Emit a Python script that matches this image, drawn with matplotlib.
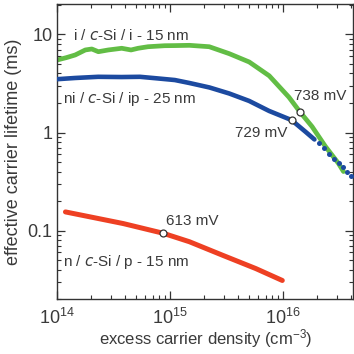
#!/usr/bin/env python3
"""Effective carrier lifetime vs excess carrier density for three a-Si:H/c-Si stacks."""

import math
import matplotlib
matplotlib.use('Agg')
import matplotlib.pyplot as plt
import matplotlib.ticker as ticker

plt.rcParams['font.family'] = ['Liberation Sans', 'DejaVu Sans']
plt.rcParams['mathtext.default'] = 'regular'

# values (x in cm^-3, y in ms)
green_x = [1.0e14, 1.2e14, 1.44e14, 1.77e14, 2.02e14, 2.31e14, 2.83e14, 3.72e14, 4.5e14,
           5.2e14, 6.37e14, 8.95e14, 1.1e15, 1.48e15, 2.22e15, 3.34e15, 5.02e15, 7.55e15,
           1.13e16, 1.41e16, 1.81e16, 2.38e16, 3.1e16, 3.44e16]
green_y = [5.5, 5.8, 6.18, 6.95, 7.11, 6.67, 6.95, 7.23, 6.95,
           7.23, 7.5, 7.68, 7.7, 7.75, 7.5, 6.37, 5.24, 3.79,
           2.29, 1.63, 1.15, 0.72, 0.485, 0.40]

blue_x = [1.0e14, 1.44e14, 2.3e14, 3.7e14, 5.4e14, 7.6e14, 1.1e15, 1.48e15, 2.23e15,
          3.34e15, 5.01e15, 7.53e15, 1.19e16, 1.58e16, 1.9e16]
blue_y = [3.5, 3.6, 3.7, 3.68, 3.7, 3.57, 3.43, 3.2, 2.88,
          2.5, 2.1, 1.66, 1.34, 1.02, 0.85]
# sparse measured points at the high-injection end
blue_tail_x = [2.07e16, 2.30e16, 2.54e16, 2.81e16, 3.11e16, 3.38e16, 3.67e16, 3.97e16]
blue_tail_y = [0.78, 0.69, 0.61, 0.54, 0.485, 0.44, 0.40, 0.36]

red_x = [1.18e14, 1.95e14, 3.83e14, 8.65e14, 1.48e15, 2.92e15, 5.74e15, 9.86e15]
red_y = [0.155, 0.138, 0.118, 0.094, 0.077, 0.056, 0.041, 0.031]

# implied Voc markers
voc_x = [1.41e16, 1.19e16, 8.65e14]
voc_y = [1.63, 1.34, 0.094]
voc_labels = ['738 mV', '729 mV', '613 mV']

green = '#62bd45'
blue = '#1c4aa0'
red = '#ee4023'
grey = '#3a3a3a'

fig = plt.figure(figsize=(3.54, 3.54), dpi=100)
ax = fig.add_axes([0.162, 0.155, 0.836, 0.834])

ax.plot(green_x, green_y, color=green, linewidth=3.4, solid_capstyle='round', zorder=2)
ax.plot(blue_x, blue_y, color=blue, linewidth=3.3, solid_capstyle='round', zorder=3)
ax.plot(blue_tail_x, blue_tail_y, color=blue, linestyle='none', marker='o',
        markersize=3.6, markeredgewidth=0, zorder=3)
ax.plot(red_x, red_y, color=red, linewidth=3.6, solid_capstyle='round', zorder=2)

ax.plot(voc_x, voc_y, linestyle='none', marker='o', markersize=5,
        markerfacecolor='white', markeredgecolor='#333333', markeredgewidth=0.9, zorder=5)

# labels
fs = 11
ax.text(1.37e14, 9.8, 'i / $\\it{c}$-Si / i - 15 nm', fontsize=fs, color=grey, va='center')
ax.text(1.12e14, 2.2, 'ni / $\\it{c}$-Si / ip - 25 nm', fontsize=fs, color=grey, va='center')
ax.text(1.12e14, 0.048, 'n / $\\it{c}$-Si / p - 15 nm', fontsize=fs, color=grey, va='center')
ax.text(1.25e16, 2.38, voc_labels[0], fontsize=fs, color=grey, va='center')
ax.text(1.1e16, 1.0, voc_labels[1], fontsize=fs, color=grey, va='center', ha='right')
ax.text(9.1e14, 0.126, voc_labels[2], fontsize=fs, color=grey, va='center')

ax.set_xscale('log')
ax.set_yscale('log')
ax.set_xlim(1e14, 4.2e16)
ax.set_ylim(0.02, 20.5)

ax.xaxis.set_major_locator(ticker.LogLocator(base=10, numticks=10))
ax.xaxis.set_major_formatter(ticker.FuncFormatter(lambda v, p: '$10^{%d}$' % round(math.log10(v))))
ax.yaxis.set_major_locator(ticker.FixedLocator([0.1, 1, 10]))
ax.yaxis.set_major_formatter(ticker.FixedFormatter(['0.1', '1', '10']))
ax.xaxis.set_minor_locator(ticker.LogLocator(base=10, subs=range(2, 10), numticks=20))
ax.yaxis.set_minor_locator(ticker.LogLocator(base=10, subs=range(2, 10), numticks=20))
ax.xaxis.set_minor_formatter(ticker.NullFormatter())
ax.yaxis.set_minor_formatter(ticker.NullFormatter())

ax.tick_params(which='both', direction='in', top=True, right=True, colors='#333333',
               labelcolor=grey, labelsize=13)
ax.tick_params(which='major', length=6, width=0.9)
ax.tick_params(which='minor', length=3, width=0.8)
ax.tick_params(axis='x', pad=6)
for s in ax.spines.values():
    s.set_color('#333333')
    s.set_linewidth(1.0)

ax.set_xlabel('excess carrier density (cm$^{-3}$)', fontsize=12, color=grey)
ax.set_ylabel('effective carrier lifetime (ms)', fontsize=13, color=grey)
ax.xaxis.set_label_coords(0.5, -0.095)
ax.yaxis.set_label_coords(-0.118, 0.5)

fig.savefig('out.png', dpi=100)
